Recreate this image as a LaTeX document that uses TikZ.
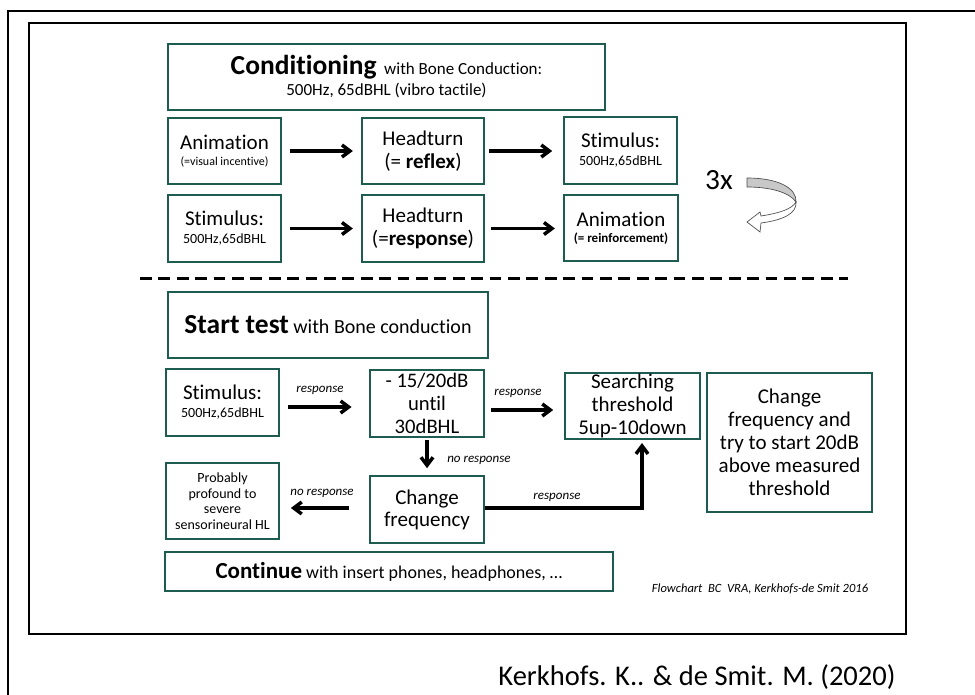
\documentclass[tikz,border=0pt]{standalone}
\usepackage{fontspec}
\setmainfont{Carlito}[Ligatures=NoCommon]
\usetikzlibrary{arrows.meta,calc}
\definecolor{boxteal}{RGB}{30,92,82}
\definecolor{arrowgray}{RGB}{200,200,200}
\newcommand{\fsz}[2]{\fontsize{#1}{#2}\selectfont}
\tikzset{
  box/.style={draw=boxteal, line width=1.75pt, inner sep=0pt, align=center, fill=white},
  wh/.style 2 args={minimum width=#1*0.75pt, minimum height=#2*0.75pt},
  arr/.style={draw=black, line width=2.6pt, -{Straight Barb[length=6pt,width=9pt]}},
  lbl/.style={font=\fsz{9.75pt}{11pt}\itshape, inner sep=0pt},
}
\begin{document}
\begin{tikzpicture}[x=0.75pt,y=-0.75pt]
\useasboundingbox (0,0) rectangle (975,695);
\fill[white] (0,0) rectangle (975,695);
% frames
\draw[line width=1.1pt] (8,700) -- (8,11) -- (980,11);
\draw[line width=1.5pt] (29,23) rectangle (906,634);

% conditioning section
\node[box, wh={437}{66}, font=\fsz{12.75pt}{15.75pt}] (cond) at (386.5,77)
  {{\fsz{20.6pt}{22pt}\bfseries Conditioning}\ \ with Bone Conduction:\\500Hz, 65dBHL (vibro tactile)};
\node[box, wh={113}{66}, font=\fsz{15.75pt}{12pt}] (anim1) at (224.5,151)
  {Animation\\{\fsz{9pt}{10pt}(=visual incentive)}};
\node[box, wh={122}{66}, font=\fsz{15.75pt}{17.25pt}] (head1) at (423,151)
  {Headturn\\(= \textbf{reflex})};
\node[box, wh={113}{67}, font=\fsz{15.75pt}{13.5pt}] (stim1) at (620.5,150.5)
  {Stimulus:\\{\fsz{10.5pt}{11pt}500Hz,65dBHL}};
\node[box, wh={113}{67}, font=\fsz{15.75pt}{13.5pt}] (stim2) at (224.5,228.5)
  {Stimulus:\\{\fsz{10.5pt}{11pt}500Hz,65dBHL}};
\node[box, wh={122}{67}, font=\fsz{15.75pt}{17.25pt}] (head2) at (423,228.5)
  {Headturn\\(=\textbf{response})};
\node[box, wh={114}{66}, font=\fsz{15.75pt}{12pt}] (anim2) at (621,228)
  {Animation\\{\fsz{9.75pt}{10pt}\bfseries(= reinforcement)}};

\draw[arr, shorten <=6pt, shorten >=6pt] (anim1) -- (head1);
\draw[arr, shorten <=3pt, shorten >=8pt] (head1) -- (stim1.west |- head1);
\draw[arr, shorten <=6pt, shorten >=6pt] (stim2) -- (head2);
\draw[arr, shorten <=4pt, shorten >=6pt] (head2) -- (anim2.west |- head2);

% 3x repeat arrow
\node[font=\fsz{22pt}{24pt}, inner sep=0pt] (three) at (719,180) {3x};
\draw[draw=black!70, line width=0.5pt, fill=arrowgray]
  (747,178) .. controls (778,178) and (797,188) .. (796,202)
  .. controls (790,193) and (772,187) .. (747,187) -- cycle;
\draw[draw=black!70, line width=0.5pt, fill=white]
  (796,202) .. controls (797,213) and (784,220) .. (761,223)
  -- (760,232) -- (747,222) -- (760,212) -- (761,216)
  .. controls (780,213) and (792,209) .. (796,202) -- cycle;

% dashed separator
\draw[line width=2.25pt, dash pattern=on 8.8pt off 5pt] (140,279) -- (848,279);

% test section
\node[box, wh={320}{66}, font=\fsz{15pt}{17pt}] (start) at (328,325)
  {{\fsz{20.6pt}{22pt}\bfseries Start test} with Bone conduction};
\node[box, wh={113}{67}, font=\fsz{15.75pt}{13.5pt}] (stim3) at (222.5,402.5)
  {Stimulus:\\{\fsz{10.5pt}{11pt}500Hz,65dBHL}};
\node[box, wh={114}{67}, font=\fsz{15.5pt}{17.25pt}] (minus) at (427,403.5)
  {- 15/20dB\\until\\30dBHL};
\node[box, wh={135}{66}, font=\fsz{15.75pt}{17pt}] (search) at (632.5,406)
  {Searching\\threshold\\5up-10down};
\node[box, wh={165}{139}, font=\fsz{15.75pt}{17.25pt}] (chbig) at (789.5,442.5)
  {Change\\frequency and\\try to start 20dB\\above measured\\threshold};
\node[box, wh={113}{76}, font=\fsz{10.5pt}{11.6pt}] (prob) at (222.5,501)
  {Probably\\profound to\\severe\\sensorineural HL};
\node[box, wh={114}{67}, font=\fsz{15.75pt}{16.5pt}] (chfreq) at (427,509.5)
  {Change\\frequency};
\node[box, wh={448}{39}, font=\fsz{13.5pt}{15pt}] (cont) at (389,571.5)
  {{\fsz{17.25pt}{18pt}\bfseries Continue} with insert phones, headphones, \dots};

\coordinate (r1) at (0,407);
\coordinate (r2) at (0,410);
\draw[arr, shorten <=6pt, shorten >=13pt] (stim3.east |- r1) -- (minus.west |- r1);
\node[lbl] (l1) at (320,390) {response};
\draw[arr, shorten <=4pt, shorten >=8pt] (minus.east |- r2) -- (search.west |- r2);
\node[lbl] (l2) at (518,393) {response};
\draw[arr, shorten <=1.5pt, shorten >=5pt] (minus) -- (chfreq);
\node[lbl, anchor=west] (l3) at (447,460) {no response};
\coordinate (r3) at (0,508);
\draw[arr, shorten <=15pt, shorten >=8pt] (chfreq.west |- r3) -- (prob.east |- r3);
\node[lbl] (l4) at (322,493) {no response};
\coordinate (up) at (642,439);
\draw[arr, shorten >=3pt] (chfreq.east |- r3) -| (up);
\node[lbl] (l5) at (557,497) {response};

% credits
\node[font=\fsz{9.4pt}{11pt}\itshape, inner sep=0pt] (credit) at (760,589)
  {Flowchart\ \ BC\ \ VRA, Kerkhofs-de Smit 2016};
\node[font=\fsz{21.4pt}{24pt}, inner sep=0pt, anchor=base] (cite) at (697,685)
  {Kerkhofs. K.. \& de Smit. M. (2020)};
\end{tikzpicture}
\end{document}
